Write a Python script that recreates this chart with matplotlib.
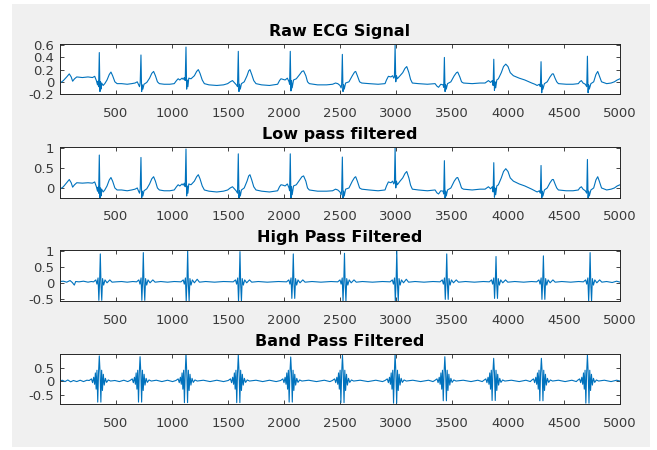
import matplotlib
matplotlib.use("Agg")
import matplotlib.pyplot as plt
from matplotlib.patches import Rectangle

plt.rcParams['font.family'] = ['DejaVu Sans']
plt.rcParams['axes.unicode_minus'] = False

# Pontos: amostra e amplitude de cada sinal
raw_t = [1, 30, 60, 83, 100, 113, 130, 150, 200, 250, 290, 310,
         325, 335, 340, 345, 351, 357, 362, 366, 372, 385, 400, 420, 440, 455, 470, 490, 510,
         550, 600, 640, 670, 690,
         700, 710, 716, 723, 729, 734, 740, 750, 775, 800, 820, 836, 852, 870, 887, 930, 980, 1020,
         1040, 1055, 1070, 1090, 1100, 1110, 1118, 1125, 1131, 1136, 1142, 1150, 1170, 1200, 1220, 1235, 1250, 1270, 1289, 1330, 1400, 1460, 1497,
         1520, 1540, 1560, 1575, 1585, 1592, 1598, 1603, 1610, 1620, 1645, 1670, 1685, 1696, 1712, 1730, 1750, 1800, 1870, 1943,
         1960, 1973, 1990, 2010, 2030, 2045, 2050, 2056, 2062, 2067, 2073, 2085, 2110, 2140, 2160, 2175, 2195, 2210, 2226, 2300, 2380, 2434,
         2460, 2480, 2500, 2510, 2515, 2521, 2527, 2532, 2538, 2550, 2580, 2610, 2630, 2640, 2655, 2675, 2694, 2760, 2840, 2902,
         2915, 2932, 2955, 2970, 2980, 2986, 2992, 2998, 3004, 3012, 3036, 3060, 3080, 3096, 3115, 3130, 3146, 3200, 3280, 3349,
         3365, 3380, 3400, 3420, 3426, 3432, 3438, 3443, 3449, 3460, 3490, 3520, 3540, 3551, 3570, 3585, 3602, 3680, 3750, 3795,
         3810, 3825, 3845, 3860, 3867, 3873, 3879, 3884, 3890, 3900, 3914, 3940, 3960, 3980, 4000, 4020, 4048, 4100, 4150, 4212,
         4240, 4260, 4280, 4289, 4295, 4301, 4306, 4312, 4325, 4350, 4375, 4395, 4405, 4420, 4435, 4450, 4520, 4580, 4628,
         4640, 4655, 4670, 4690, 4703, 4709, 4715, 4720, 4726, 4740, 4765, 4785, 4801, 4815, 4835, 4881, 4920, 4950, 4975, 5000]

raw_v = [-0.02, 0.02, 0.08, 0.13, 0.08, 0.01, 0.05, 0.08, 0.07, 0.08, 0.07, 0.09,
         0.02, -0.05, 0.01, -0.08, 0.48, -0.16, 0.0, -0.12, -0.02, -0.06, -0.03, 0.03, 0.12, 0.16, 0.1, 0.0, -0.03,
         -0.03, -0.04, -0.03, -0.02, 0.0,
         -0.04, -0.08, -0.02, 0.44, -0.16, -0.05, -0.12, -0.04, -0.01, 0.06, 0.14, 0.17, 0.1, 0.0, -0.03, -0.04, -0.04, -0.03,
         0.02, 0.05, 0.03, 0.06, 0.04, 0.07, 0.02, 0.57, -0.12, 0.03, -0.08, 0.06, 0.05, 0.1, 0.17, 0.2, 0.14, 0.03, -0.03, -0.05, -0.06, -0.05, -0.03,
         0.0, 0.02, -0.02, -0.05, -0.08, 0.5, -0.16, -0.04, -0.12, -0.03, 0.0, 0.1, 0.18, 0.2, 0.12, 0.02, -0.03, -0.05, -0.06, -0.04,
         0.02, 0.05, 0.04, 0.03, 0.06, 0.0, -0.04, 0.5, -0.15, 0.02, -0.1, 0.03, 0.05, 0.12, 0.17, 0.18, 0.1, 0.0, -0.03, -0.05, -0.05, -0.04,
         -0.02, -0.03, -0.06, -0.1, -0.04, 0.45, -0.16, -0.05, -0.12, -0.02, 0.0, 0.1, 0.16, 0.17, 0.1, 0.0, -0.02, -0.03, -0.04, -0.03,
         0.03, 0.09, 0.08, 0.1, 0.06, 0.08, 0.6, 0.0, 0.1, 0.05, 0.1, 0.15, 0.22, 0.25, 0.15, 0.04, -0.02, -0.03, -0.04, -0.03,
         -0.07, -0.09, -0.04, -0.05, -0.09, 0.4, -0.16, -0.05, -0.12, -0.03, 0.0, 0.1, 0.15, 0.16, 0.08, 0.0, -0.02, -0.03, -0.02, -0.02,
         0.0, 0.02, -0.01, 0.02, -0.06, 0.37, -0.14, 0.0, -0.1, 0.03, 0.05, 0.15, 0.25, 0.29, 0.25, 0.15, 0.1, 0.06, 0.03, -0.02,
         -0.04, -0.06, -0.04, -0.08, 0.33, -0.18, -0.05, -0.12, -0.03, 0.0, 0.08, 0.13, 0.13, 0.06, 0.0, -0.03, -0.04, -0.04, -0.03,
         0.0, 0.02, -0.02, -0.04, -0.08, 0.42, -0.18, -0.05, -0.12, -0.03, 0.0, 0.12, 0.17, 0.1, 0.0, -0.03, -0.02, 0.0, 0.03, 0.05]

# passa-baixa, nas mesmas amostras do sinal bruto
lowpass_v = [-0.03, 0.03, 0.13, 0.21, 0.13, 0.02, 0.08, 0.13, 0.12, 0.13, 0.12, 0.15,
             0.03, -0.08, 0.02, -0.13, 0.82, -0.26, 0.0, -0.2, -0.03, -0.1, -0.05, 0.05, 0.2, 0.26, 0.17, 0.0, -0.05,
             -0.05, -0.07, -0.05, -0.03, 0.0,
             -0.07, -0.13, -0.03, 0.76, -0.26, -0.08, -0.2, -0.07, -0.02, 0.1, 0.23, 0.28, 0.17, 0.0, -0.05, -0.07, -0.07, -0.05,
             0.03, 0.08, 0.05, 0.1, 0.07, 0.12, 0.03, 0.97, -0.2, 0.05, -0.13, 0.1, 0.08, 0.17, 0.28, 0.33, 0.23, 0.05, -0.05, -0.08, -0.1, -0.08, -0.05,
             0.0, 0.03, -0.03, -0.08, -0.13, 0.85, -0.26, -0.07, -0.2, -0.05, 0.0, 0.17, 0.3, 0.33, 0.2, 0.03, -0.05, -0.08, -0.1, -0.07,
             0.03, 0.08, 0.07, 0.05, 0.1, 0.0, -0.07, 0.85, -0.25, 0.03, -0.17, 0.05, 0.08, 0.2, 0.28, 0.3, 0.17, 0.0, -0.05, -0.08, -0.08, -0.07,
             -0.03, -0.05, -0.1, -0.17, -0.07, 0.77, -0.26, -0.08, -0.2, -0.03, 0.0, 0.17, 0.26, 0.28, 0.17, 0.0, -0.03, -0.05, -0.07, -0.05,
             0.05, 0.15, 0.13, 0.17, 0.1, 0.13, 1.0, 0.0, 0.17, 0.08, 0.17, 0.25, 0.36, 0.41, 0.25, 0.07, -0.03, -0.05, -0.07, -0.05,
             -0.12, -0.15, -0.07, -0.08, -0.15, 0.68, -0.26, -0.08, -0.2, -0.05, 0.0, 0.17, 0.25, 0.26, 0.13, 0.0, -0.03, -0.05, -0.03, -0.03,
             0.0, 0.03, -0.02, 0.03, -0.1, 0.63, -0.23, 0.0, -0.17, 0.05, 0.08, 0.25, 0.41, 0.48, 0.41, 0.25, 0.17, 0.1, 0.05, -0.03,
             -0.07, -0.1, -0.07, -0.13, 0.56, -0.28, -0.08, -0.2, -0.05, 0.0, 0.13, 0.21, 0.21, 0.1, 0.0, -0.05, -0.07, -0.07, -0.05,
             0.0, 0.03, -0.03, -0.07, -0.13, 0.71, -0.28, -0.08, -0.2, -0.05, 0.0, 0.2, 0.28, 0.17, 0.0, -0.05, -0.03, 0.0, 0.05, 0.08]

highpass_pts = [
    (1, 0.05), (30, 0.06), (60, 0.03), (90, 0.08), (110, 0.02), (128, -0.06), (140, 0.05), (170, 0.04), (210, 0.06), (250, 0.03), (280, 0.05),
    (300, 0.04), (320, 0.1), (330, -0.03), (340, 0.16), (347, -0.53), (354, 0.08), (360, 0.9), (366, -0.02), (373, -0.53), (380, 0.14), (390, -0.06), (402, 0.1), (420, 0.01), (445, 0.1), (465, 0.03),
    (500, 0.04), (550, 0.05), (600, 0.03), (650, 0.05),
    (684, 0.04), (704, 0.1), (714, -0.03), (724, 0.16), (731, -0.53), (738, 0.08), (744, 0.94), (750, -0.02), (757, -0.53), (764, 0.14), (774, -0.06), (786, 0.1), (804, 0.01), (829, 0.1), (849, 0.03),
    (900, 0.05), (960, 0.03), (1020, 0.05),
    (1080, 0.04), (1100, 0.1), (1110, -0.03), (1120, 0.16), (1127, -0.56), (1134, 0.08), (1140, 1.0), (1146, -0.02), (1153, -0.56), (1160, 0.14), (1170, -0.06), (1182, 0.1), (1200, 0.01), (1225, 0.12), (1245, 0.03),
    (1300, 0.05), (1380, 0.03), (1460, 0.05),
    (1547, 0.04), (1567, 0.1), (1577, -0.03), (1587, 0.16), (1594, -0.56), (1601, 0.08), (1607, 0.97), (1613, -0.02), (1620, -0.56), (1627, 0.14), (1637, -0.06), (1649, 0.1), (1667, 0.01), (1692, 0.1), (1712, 0.03),
    (1770, 0.05), (1850, 0.03), (1950, 0.05),
    (2023, 0.04), (2043, 0.1), (2053, -0.03), (2063, 0.16), (2070, -0.47), (2077, 0.08), (2083, 0.9), (2089, -0.02), (2096, -0.47), (2103, 0.14), (2113, -0.06), (2125, 0.1), (2143, 0.01), (2168, 0.1), (2188, 0.03),
    (2250, 0.05), (2330, 0.03), (2420, 0.05),
    (2480, 0.04), (2500, 0.1), (2510, -0.03), (2520, 0.16), (2527, -0.56), (2534, 0.08), (2540, 0.92), (2546, -0.02), (2553, -0.56), (2560, 0.14), (2570, -0.06), (2582, 0.1), (2600, 0.01), (2625, 0.1), (2645, 0.03),
    (2700, 0.05), (2790, 0.03), (2880, 0.05),
    (2947, 0.04), (2967, 0.1), (2977, -0.03), (2987, 0.16), (2994, -0.56), (3001, 0.08), (3007, 1.0), (3013, -0.02), (3020, -0.56), (3027, 0.14), (3037, -0.06), (3049, 0.1), (3067, 0.01), (3092, 0.12), (3112, 0.03),
    (3170, 0.05), (3250, 0.03), (3330, 0.05),
    (3393, 0.04), (3413, 0.1), (3423, -0.03), (3433, 0.16), (3440, -0.5), (3447, 0.08), (3453, 0.9), (3459, -0.02), (3466, -0.5), (3473, 0.14), (3483, -0.06), (3495, 0.1), (3513, 0.01), (3538, 0.1), (3558, 0.03),
    (3620, 0.05), (3700, 0.03), (3780, 0.05),
    (3833, 0.04), (3853, 0.1), (3863, -0.03), (3873, 0.16), (3880, -0.47), (3887, 0.08), (3893, 0.82), (3899, -0.02), (3906, -0.47), (3913, 0.14), (3923, -0.06), (3935, 0.1), (3953, 0.01), (3978, 0.1), (3998, 0.03),
    (4060, 0.05), (4140, 0.03), (4210, 0.05),
    (4256, 0.04), (4276, 0.1), (4286, -0.03), (4296, 0.16), (4303, -0.5), (4310, 0.08), (4316, 0.84), (4322, -0.02), (4329, -0.5), (4336, 0.14), (4346, -0.06), (4358, 0.1), (4376, 0.01), (4401, 0.1), (4421, 0.03),
    (4480, 0.05), (4560, 0.03), (4630, 0.05),
    (4673, 0.04), (4693, 0.1), (4703, -0.03), (4713, 0.16), (4720, -0.56), (4727, 0.08), (4733, 0.94), (4739, -0.02), (4746, -0.56), (4753, 0.14), (4763, -0.06), (4775, 0.1), (4793, 0.01), (4818, 0.1), (4838, 0.03),
    (4880, 0.05), (4930, 0.02), (4970, 0.06), (5000, 0.03),
]

bandpass_pts = [
    (1, 0.0), (20, 0.03), (45, -0.02), (70, 0.04), (95, -0.03), (120, 0.02), (150, -0.02), (180, 0.03), (210, -0.02), (240, 0.03),
    (261, 0.02), (281, 0.08), (291, -0.06), (301, 0.14), (309, -0.12), (316, 0.3), (323, -0.3), (330, 0.4), (337, -0.78), (344, 0.3), (351, 0.93), (358, 0.3), (365, -0.78), (372, 0.4), (379, -0.35), (387, 0.25), (395, -0.15), (405, 0.1), (416, -0.05), (431, 0.04), (451, 0.0),
    (490, 0.02), (530, -0.02), (570, 0.03), (605, -0.02),
    (625, 0.02), (645, 0.08), (655, -0.06), (665, 0.14), (673, -0.12), (680, 0.3), (687, -0.3), (694, 0.4), (701, -0.78), (708, 0.3), (715, 0.9), (722, 0.3), (729, -0.78), (736, 0.4), (743, -0.35), (751, 0.25), (759, -0.15), (769, 0.1), (780, -0.05), (795, 0.04), (815, 0.0),
    (860, 0.03), (910, -0.02), (960, 0.03), (1005, -0.02),
    (1035, 0.02), (1055, 0.08), (1065, -0.06), (1075, 0.14), (1083, -0.12), (1090, 0.3), (1097, -0.3), (1104, 0.4), (1111, -0.8), (1118, 0.3), (1125, 1.0), (1132, 0.3), (1139, -0.8), (1146, 0.4), (1153, -0.35), (1161, 0.25), (1169, -0.15), (1179, 0.1), (1190, -0.05), (1205, 0.04), (1225, 0.0),
    (1280, 0.03), (1340, -0.02), (1400, 0.03), (1460, -0.02),
    (1502, 0.02), (1522, 0.08), (1532, -0.06), (1542, 0.14), (1550, -0.12), (1557, 0.3), (1564, -0.3), (1571, 0.4), (1578, -0.8), (1585, 0.3), (1592, 0.96), (1599, 0.3), (1606, -0.8), (1613, 0.4), (1620, -0.35), (1628, 0.25), (1636, -0.15), (1646, 0.1), (1657, -0.05), (1672, 0.04), (1692, 0.0),
    (1750, 0.03), (1810, -0.02), (1870, 0.03), (1930, -0.02),
    (1970, 0.02), (1990, 0.08), (2000, -0.06), (2010, 0.14), (2018, -0.12), (2025, 0.3), (2032, -0.3), (2039, 0.4), (2046, -0.78), (2053, 0.3), (2060, 0.89), (2067, 0.3), (2074, -0.78), (2081, 0.4), (2088, -0.35), (2096, 0.25), (2104, -0.15), (2114, 0.1), (2125, -0.05), (2140, 0.04), (2160, 0.0),
    (2220, 0.03), (2290, -0.02), (2360, 0.03), (2410, -0.02),
    (2432, 0.02), (2452, 0.08), (2462, -0.06), (2472, 0.14), (2480, -0.12), (2487, 0.3), (2494, -0.3), (2501, 0.4), (2508, -0.8), (2515, 0.3), (2522, 0.95), (2529, 0.3), (2536, -0.8), (2543, 0.4), (2550, -0.35), (2558, 0.25), (2566, -0.15), (2576, 0.1), (2587, -0.05), (2602, 0.04), (2622, 0.0),
    (2680, 0.03), (2750, -0.02), (2820, 0.03), (2880, -0.02),
    (2902, 0.02), (2922, 0.08), (2932, -0.06), (2942, 0.14), (2950, -0.12), (2957, 0.3), (2964, -0.3), (2971, 0.4), (2978, -0.82), (2985, 0.3), (2992, 1.0), (2999, 0.3), (3006, -0.82), (3013, 0.4), (3020, -0.35), (3028, 0.25), (3036, -0.15), (3046, 0.1), (3057, -0.05), (3072, 0.04), (3092, 0.0),
    (3150, 0.03), (3220, -0.02), (3290, 0.03), (3330, -0.02),
    (3346, 0.02), (3366, 0.08), (3376, -0.06), (3386, 0.14), (3394, -0.12), (3401, 0.3), (3408, -0.3), (3415, 0.4), (3422, -0.73), (3429, 0.3), (3436, 0.9), (3443, 0.3), (3450, -0.73), (3457, 0.4), (3464, -0.35), (3472, 0.25), (3480, -0.15), (3490, 0.1), (3501, -0.05), (3516, 0.04), (3536, 0.0),
    (3600, 0.03), (3670, -0.02), (3730, 0.03), (3770, -0.02),
    (3782, 0.02), (3802, 0.08), (3812, -0.06), (3822, 0.14), (3830, -0.12), (3837, 0.3), (3844, -0.3), (3851, 0.4), (3858, -0.72), (3865, 0.3), (3872, 0.84), (3879, 0.3), (3886, -0.72), (3893, 0.4), (3900, -0.35), (3908, 0.25), (3916, -0.15), (3926, 0.1), (3937, -0.05), (3952, 0.04), (3972, 0.0),
    (4030, 0.03), (4100, -0.02), (4160, 0.03), (4200, -0.02),
    (4208, 0.02), (4228, 0.08), (4238, -0.06), (4248, 0.14), (4256, -0.12), (4263, 0.3), (4270, -0.3), (4277, 0.4), (4284, -0.73), (4291, 0.3), (4298, 0.84), (4305, 0.3), (4312, -0.73), (4319, 0.4), (4326, -0.35), (4334, 0.25), (4342, -0.15), (4352, 0.1), (4363, -0.05), (4378, 0.04), (4398, 0.0),
    (4450, 0.03), (4510, -0.02), (4570, 0.03), (4610, -0.02),
    (4619, 0.02), (4639, 0.08), (4649, -0.06), (4659, 0.14), (4667, -0.12), (4674, 0.3), (4681, -0.3), (4688, 0.4), (4695, -0.82), (4702, 0.3), (4709, 0.96), (4716, 0.3), (4723, -0.82), (4730, 0.4), (4737, -0.35), (4745, 0.25), (4753, -0.15), (4763, 0.1), (4774, -0.05), (4789, 0.04), (4809, 0.0),
    (4860, 0.03), (4920, -0.02), (4970, 0.03), (5000, 0.0),
]

titles = ["Raw ECG Signal", "Low pass filtered", "High Pass Filtered", "Band Pass Filtered"]
x_ticks = [500, 1000, 1500, 2000, 2500, 3000, 3500, 4000, 4500, 5000]

hp_t = [p[0] for p in highpass_pts]
hp_v = [p[1] for p in highpass_pts]
bp_t = [p[0] for p in bandpass_pts]
bp_v = [p[1] for p in bandpass_pts]

signals = [(raw_t, raw_v), (raw_t, lowpass_v), (hp_t, hp_v), (bp_t, bp_v)]
y_limits = [(-0.2, 0.62), (-0.25, 1.02), (-0.55, 1.02), (-0.85, 1.0)]
y_ticks = [[-0.2, 0, 0.2, 0.4, 0.6], [0, 0.5, 1], [-0.5, 0, 0.5, 1], [-0.5, 0, 0.5]]
y_labels = [["-0.2", "0", "0.2", "0.4", "0.6"], ["0", "0.5", "1"],
            ["-0.5", "0", "0.5", "1"], ["-0.5", "0", "0.5"]]
# posicoes dos eixos em fracao da figura (left, bottom, width, height)
ax_boxes = [(0.0913, 0.7911, 0.8524, 0.1111),
            (0.0913, 0.5600, 0.8524, 0.1133),
            (0.0913, 0.3311, 0.8524, 0.1133),
            (0.0913, 0.1022, 0.8524, 0.1111)]

fig = plt.figure(figsize=(6.57, 4.5), dpi=100, facecolor='white')
# fundo cinza da janela do MATLAB
fig.patches.append(Rectangle((0.018, 0.007), 0.971, 0.984, transform=fig.transFigure,
                             facecolor='#f0f0f0', edgecolor='none', zorder=-10))

for i in range(4):
    ax = fig.add_axes(ax_boxes[i])
    ax.set_zorder(1)
    ax.set_facecolor('white')
    t, v = signals[i]
    ax.plot(t, v, color='#0072BD', linewidth=0.8)
    ax.set_xlim(0, 5000)
    ax.set_ylim(*y_limits[i])
    ax.set_xticks(x_ticks)
    ax.set_yticks(y_ticks[i])
    ax.set_yticklabels(y_labels[i])
    ax.set_title(titles[i], fontsize=11.5, fontweight='bold', pad=6, color='#000000')
    ax.tick_params(direction='in', top=True, right=True, length=3, width=0.6,
                   labelsize=9.5, labelcolor='#3a3a3a', color='#262626')
    ax.tick_params(axis='x', pad=9)
    ax.tick_params(axis='y', pad=4)
    for side in ['top', 'bottom', 'left', 'right']:
        ax.spines[side].set_linewidth(0.7)
        ax.spines[side].set_color('#262626')

plt.savefig("out.png", dpi=100, facecolor=fig.get_facecolor())
